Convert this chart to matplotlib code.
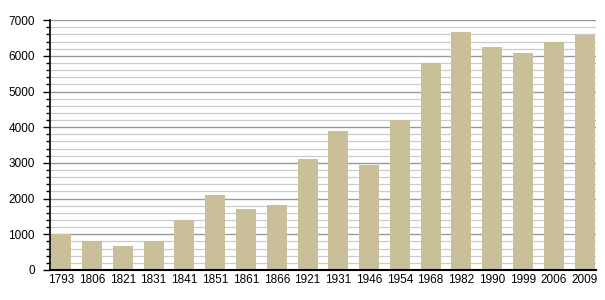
import numpy as np
import matplotlib.pyplot as plt
from matplotlib.ticker import MultipleLocator

years = ['1793', '1806', '1821', '1831', '1841', '1851', '1861', '1866', '1921',
         '1931', '1946', '1954', '1968', '1982', '1990', '1999', '2006', '2009']
population = [1010, 820, 680, 820, 1400, 2100, 1700, 1820, 3110,
              3900, 2940, 4200, 5790, 6670, 6250, 6090, 6380, 6580]

plt.rcParams['font.family'] = ['Liberation Sans', 'DejaVu Sans']

fig = plt.figure(figsize=(6.05, 3.0), dpi=100)
ax = fig.add_axes([0.083, 0.1, 0.902, 0.833])

x = np.arange(len(years))
ax.bar(x, population, width=0.65, color='#c9bf98', zorder=3)

ax.set_ylim(0, 7000)
ax.set_xlim(-0.36, len(years) - 0.63)
ax.yaxis.set_major_locator(MultipleLocator(1000))
ax.yaxis.set_minor_locator(MultipleLocator(200))
ax.grid(which='major', axis='y', color='#999999', lw=1.0, zorder=0)
ax.grid(which='minor', axis='y', color='#cccccc', lw=0.9, zorder=0)

ax.set_xticks(x)
ax.set_xticklabels(years)
ax.tick_params(axis='x', length=0, labelsize=8.5, pad=3)
ax.tick_params(axis='y', which='major', length=5, width=1, labelsize=8.5, pad=6)
ax.tick_params(axis='y', which='minor', length=3, width=1)

for s in ['top', 'right']:
    ax.spines[s].set_visible(False)
ax.spines['left'].set_linewidth(1.2)
ax.spines['bottom'].set_linewidth(1.5)
ax.spines['left'].set_zorder(4)
ax.spines['bottom'].set_zorder(4)

plt.savefig('out.png', dpi=100)
